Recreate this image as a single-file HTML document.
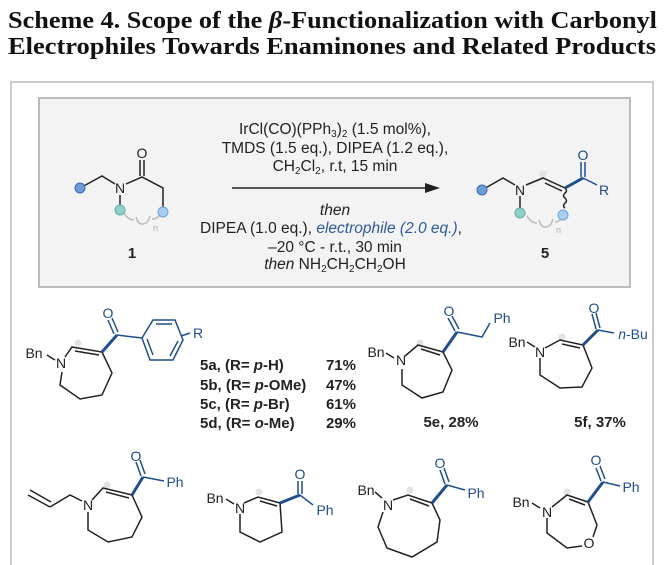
<!DOCTYPE html>
<html><head><meta charset="utf-8"><style>
html,body{margin:0;padding:0;background:#fff}
svg{display:block}
text{font-family:"Liberation Sans",sans-serif}
.t{font-family:"Liberation Serif",serif;font-weight:bold;font-size:24px;fill:#111}
.c{font-size:15.5px;fill:#222;text-anchor:middle}
.a{font-size:14px;fill:#222;text-anchor:middle}
.b{font-size:14px;fill:#1f4e8c;text-anchor:middle}
.l{font-size:15px;font-weight:bold;fill:#222}
</style></head><body>
<svg width="664" height="565" viewBox="0 0 664 565" xmlns="http://www.w3.org/2000/svg">
<text class="t" x="8" y="28" textLength="649" lengthAdjust="spacingAndGlyphs">Scheme 4. Scope of the <tspan font-style="italic">β</tspan>-Functionalization with Carbonyl</text>
<text class="t" x="8" y="54" textLength="648" lengthAdjust="spacingAndGlyphs">Electrophiles Towards Enaminones and Related Products</text>
<rect x="11" y="82" width="642" height="500" fill="#fff" stroke="#ccc" stroke-width="2"/>
<rect x="39" y="98" width="591" height="189" fill="#f3f3f3" stroke="#bbb" stroke-width="2"/>

<!-- substrate 1 -->
<g fill="none" stroke="#222" stroke-width="1.5">
<polyline points="80,188 102,176 115,184"/>
<polyline points="126,184 142,177 163,188 163,210"/>
<line x1="120" y1="195" x2="120" y2="207"/>
</g>
<line x1="140" y1="176" x2="140" y2="160" stroke="#222" stroke-width="1.5"/>
<line x1="144" y1="176" x2="144" y2="160" stroke="#222" stroke-width="1.5"/>
<path d="M124,213 Q128,220 134,220 M136,217 Q138,224 142,224 Q148,224 150,216 M152,219 Q158,219 161,213" fill="none" stroke="#bbb" stroke-width="1.5"/>
<text x="153" y="231" font-size="9" fill="#aaa">n</text>
<circle cx="80" cy="188" r="5" fill="#6e9bd8" stroke="#3c6bb0"/>
<circle cx="120" cy="210" r="5" fill="#8fd0c8" stroke="#5fb0a6"/>
<circle cx="163" cy="212" r="5" fill="#a9cdf0" stroke="#6ea3d8"/>
<text class="a" x="120" y="193">N</text>
<text class="a" x="142" y="158">O</text>
<text class="l" x="132" y="258" text-anchor="middle">1</text>

<!-- arrow -->
<line x1="232" y1="188" x2="428" y2="188" stroke="#222" stroke-width="1.6"/>
<polygon points="440,188 425,183 425,193" fill="#222"/>
<text class="c" x="335" y="134">IrCl(CO)(PPh<tspan font-size="10" dy="3">3</tspan><tspan dy="-3">)</tspan><tspan font-size="10" dy="3">2</tspan><tspan dy="-3"> (1.5 mol%),</tspan></text>
<text class="c" x="335" y="153">TMDS (1.5 eq.), DIPEA (1.2 eq.),</text>
<text class="c" x="335" y="171">CH<tspan font-size="10" dy="3">2</tspan><tspan dy="-3">Cl</tspan><tspan font-size="10" dy="3">2</tspan><tspan dy="-3">,  r.t, 15 min</tspan></text>
<text class="c" x="335" y="215" font-style="italic">then</text>
<text class="c" x="331" y="233">DIPEA (1.0 eq.), <tspan font-style="italic" fill="#2d5a9a">electrophile (2.0 eq.)</tspan>,</text>
<text class="c" x="335" y="252">–20 °C - r.t., 30 min</text>
<text class="c" x="335" y="269"><tspan font-style="italic">then</tspan> NH<tspan font-size="10" dy="3">2</tspan><tspan dy="-3">CH</tspan><tspan font-size="10" dy="3">2</tspan><tspan dy="-3">CH</tspan><tspan font-size="10" dy="3">2</tspan><tspan dy="-3">OH</tspan></text>

<!-- product 5 -->
<circle cx="543" cy="174" r="4" fill="#e4e4e4"/>
<g fill="none" stroke="#222" stroke-width="1.5">
<polyline points="482,190 503,178 515,185"/>
<polyline points="526,185 543,178 565,188"/>
<line x1="545" y1="183" x2="562" y2="191"/>
<line x1="520" y1="196" x2="520" y2="208"/>
<path d="M565,188 q3,3 0,5 q-3,3 0,5 q3,3 0,5 q-3,3 0,5"/>
</g>
<line x1="565" y1="188" x2="583" y2="178" stroke="#1f4e8c" stroke-width="3"/>
<line x1="583" y1="178" x2="597" y2="185" stroke="#1f4e8c" stroke-width="1.5"/>
<line x1="581" y1="177" x2="581" y2="162" stroke="#1f4e8c" stroke-width="1.5"/>
<line x1="585" y1="177" x2="585" y2="162" stroke="#1f4e8c" stroke-width="1.5"/>
<path d="M527,216 Q531,223 537,223 M539,220 Q541,227 545,227 Q551,227 553,219 M555,222 Q560,222 563,216" fill="none" stroke="#bbb" stroke-width="1.5"/>
<text x="556" y="233" font-size="9" fill="#aaa">n</text>
<circle cx="482" cy="190" r="5" fill="#6e9bd8" stroke="#3c6bb0"/>
<circle cx="520" cy="213" r="5" fill="#8fd0c8" stroke="#5fb0a6"/>
<circle cx="563" cy="215" r="5" fill="#a9cdf0" stroke="#6ea3d8"/>
<text class="a" x="520" y="195">N</text>
<text class="b" x="583" y="160" font-size="15">O</text>
<text class="b" x="604" y="195" font-size="15">R</text>
<text class="l" x="545" y="258" text-anchor="middle">5</text>

<!-- 5a -->
<circle cx="78" cy="343" r="3.5" fill="#e2e2e2"/>
<g fill="none" stroke="#222" stroke-width="1.5">
<line x1="47" y1="355" x2="55" y2="360"/>
<polyline points="65,357 72,347 102,352 112,373 102,395 80,399 60,385 62,372"/>
<line x1="75" y1="351" x2="99" y2="355"/>
</g>
<text class="a" x="34" y="358">Bn</text>
<text class="a" x="61" y="368">N</text>
<line x1="102" y1="352" x2="117" y2="335" stroke="#1f4e8c" stroke-width="3"/>
<g fill="none" stroke="#1f4e8c" stroke-width="1.5">
<line x1="114" y1="334" x2="108" y2="320"/><line x1="118" y1="332" x2="112" y2="318"/>
<line x1="117" y1="335" x2="142" y2="338"/>
<polygon points="142,338 153,320 175,320 183,340 173,360 150,360"/>
<line x1="156" y1="324" x2="172" y2="324"/><line x1="178" y1="341" x2="170" y2="356"/><line x1="147" y1="339" x2="153" y2="355"/>
<line x1="181" y1="336" x2="190" y2="333"/>
</g>
<text class="b" x="108" y="318">O</text>
<text class="b" x="198" y="338">R</text>
<text class="l" x="200" y="370">5a, (R= <tspan font-style="italic">p</tspan>-H)</text>
<text class="l" x="200" y="390">5b, (R= <tspan font-style="italic">p</tspan>-OMe)</text>
<text class="l" x="200" y="409">5c, (R= <tspan font-style="italic">p</tspan>-Br)</text>
<text class="l" x="200" y="428">5d, (R= <tspan font-style="italic">o</tspan>-Me)</text>
<text class="l" x="356" y="370" text-anchor="end">71%</text>
<text class="l" x="356" y="390" text-anchor="end">47%</text>
<text class="l" x="356" y="409" text-anchor="end">61%</text>
<text class="l" x="356" y="428" text-anchor="end">29%</text>

<!-- 5e -->
<circle cx="420" cy="343" r="3.5" fill="#e2e2e2"/>
<g fill="none" stroke="#222" stroke-width="1.5">
<line x1="386" y1="353" x2="394" y2="358"/>
<polyline points="405,356 418,345 443,352 452,370 443,392 422,398 402,385 402,369"/>
<line x1="421" y1="349" x2="440" y2="355"/>
</g>
<text class="a" x="376" y="357">Bn</text>
<text class="a" x="401" y="365">N</text>
<line x1="443" y1="352" x2="457" y2="332" stroke="#1f4e8c" stroke-width="3"/>
<g fill="none" stroke="#1f4e8c" stroke-width="1.5">
<line x1="455" y1="331" x2="448" y2="318"/><line x1="459" y1="329" x2="452" y2="316"/>
<polyline points="457,332 482,337 490,323"/>
</g>
<text class="b" x="449" y="316">O</text>
<text class="b" x="502" y="323">Ph</text>
<text class="l" x="451" y="427" text-anchor="middle">5e, 28%</text>

<!-- 5f -->
<circle cx="562" cy="337" r="3.5" fill="#e2e2e2"/>
<g fill="none" stroke="#222" stroke-width="1.5">
<line x1="527" y1="342" x2="535" y2="347"/>
<polyline points="545,348 560,340 583,345 592,368 582,387 560,388 540,375 540,358"/>
<line x1="562" y1="344" x2="580" y2="348"/>
</g>
<text class="a" x="517" y="347">Bn</text>
<text class="a" x="540" y="357">N</text>
<line x1="583" y1="345" x2="598" y2="330" stroke="#1f4e8c" stroke-width="3"/>
<g fill="none" stroke="#1f4e8c" stroke-width="1.5">
<line x1="596" y1="329" x2="592" y2="314"/><line x1="600" y1="328" x2="596" y2="313"/>
<line x1="598" y1="330" x2="614" y2="333"/>
</g>
<text class="b" x="594" y="313">O</text>
<text class="b" x="633" y="339"><tspan font-style="italic">n</tspan>-Bu</text>
<text class="l" x="600" y="427" text-anchor="middle">5f, 37%</text>

<!-- row 2: allyl -->
<circle cx="107" cy="485" r="3.5" fill="#e2e2e2"/>
<g fill="none" stroke="#222" stroke-width="1.5">
<line x1="28" y1="495" x2="50" y2="507"/><line x1="30" y1="490" x2="51" y2="502"/>
<polyline points="50,507 70,495 82,501"/>
<polyline points="92,500 103,488 132,495 142,517 132,537 108,542 88,530 88,512"/>
<line x1="106" y1="492" x2="129" y2="498"/>
</g>
<text class="a" x="88" y="510">N</text>
<line x1="132" y1="495" x2="143" y2="477" stroke="#1f4e8c" stroke-width="3"/>
<g fill="none" stroke="#1f4e8c" stroke-width="1.5">
<line x1="141" y1="476" x2="136" y2="462"/><line x1="145" y1="474" x2="140" y2="460"/>
<line x1="143" y1="477" x2="164" y2="481"/>
</g>
<text class="b" x="136" y="461">O</text>
<text class="b" x="175" y="487">Ph</text>

<!-- tetrahydropyridine -->
<circle cx="259" cy="492" r="3.5" fill="#e2e2e2"/>
<g fill="none" stroke="#222" stroke-width="1.5">
<line x1="226" y1="499" x2="234" y2="504"/>
<polyline points="244,503 258,497 280,503 282,532 260,542 240,532 240,514"/>
<line x1="260" y1="501" x2="277" y2="506"/>
</g>
<text class="a" x="215" y="503">Bn</text>
<text class="a" x="240" y="513">N</text>
<line x1="280" y1="503" x2="300" y2="495" stroke="#1f4e8c" stroke-width="3"/>
<g fill="none" stroke="#1f4e8c" stroke-width="1.5">
<line x1="298" y1="494" x2="298" y2="481"/><line x1="302" y1="494" x2="302" y2="481"/>
<line x1="300" y1="495" x2="313" y2="505"/>
</g>
<text class="b" x="300" y="479">O</text>
<text class="b" x="325" y="515">Ph</text>

<!-- azocine -->
<circle cx="410" cy="490" r="3.5" fill="#e2e2e2"/>
<g fill="none" stroke="#222" stroke-width="1.5">
<line x1="375" y1="492" x2="382" y2="498"/>
<polyline points="393,500 408,495 432,503 440,520 437,542 412,557 387,548 378,527 383,512"/>
<line x1="410" y1="499" x2="429" y2="506"/>
</g>
<text class="a" x="366" y="495">Bn</text>
<text class="a" x="388" y="510">N</text>
<line x1="432" y1="503" x2="447" y2="485" stroke="#1f4e8c" stroke-width="3"/>
<g fill="none" stroke="#1f4e8c" stroke-width="1.5">
<line x1="445" y1="484" x2="440" y2="470"/><line x1="449" y1="482" x2="444" y2="468"/>
<line x1="447" y1="485" x2="465" y2="490"/>
</g>
<text class="b" x="440" y="468">O</text>
<text class="b" x="476" y="498">Ph</text>

<!-- oxazepine -->
<circle cx="567" cy="492" r="3.5" fill="#e2e2e2"/>
<g fill="none" stroke="#222" stroke-width="1.5">
<line x1="532" y1="503" x2="540" y2="508"/>
<polyline points="552,507 567,495 588,502 597,525 593,537"/>
<polyline points="582,546 567,548 547,533 547,518"/>
<line x1="569" y1="499" x2="585" y2="505"/>
</g>
<text class="a" x="521" y="507">Bn</text>
<text class="a" x="547" y="517">N</text>
<text class="a" x="589" y="548">O</text>
<line x1="588" y1="502" x2="603" y2="482" stroke="#1f4e8c" stroke-width="3"/>
<g fill="none" stroke="#1f4e8c" stroke-width="1.5">
<line x1="601" y1="481" x2="596" y2="468"/><line x1="605" y1="479" x2="600" y2="466"/>
<line x1="603" y1="482" x2="620" y2="486"/>
</g>
<text class="b" x="596" y="465">O</text>
<text class="b" x="631" y="492">Ph</text>
</svg>
</body></html>
